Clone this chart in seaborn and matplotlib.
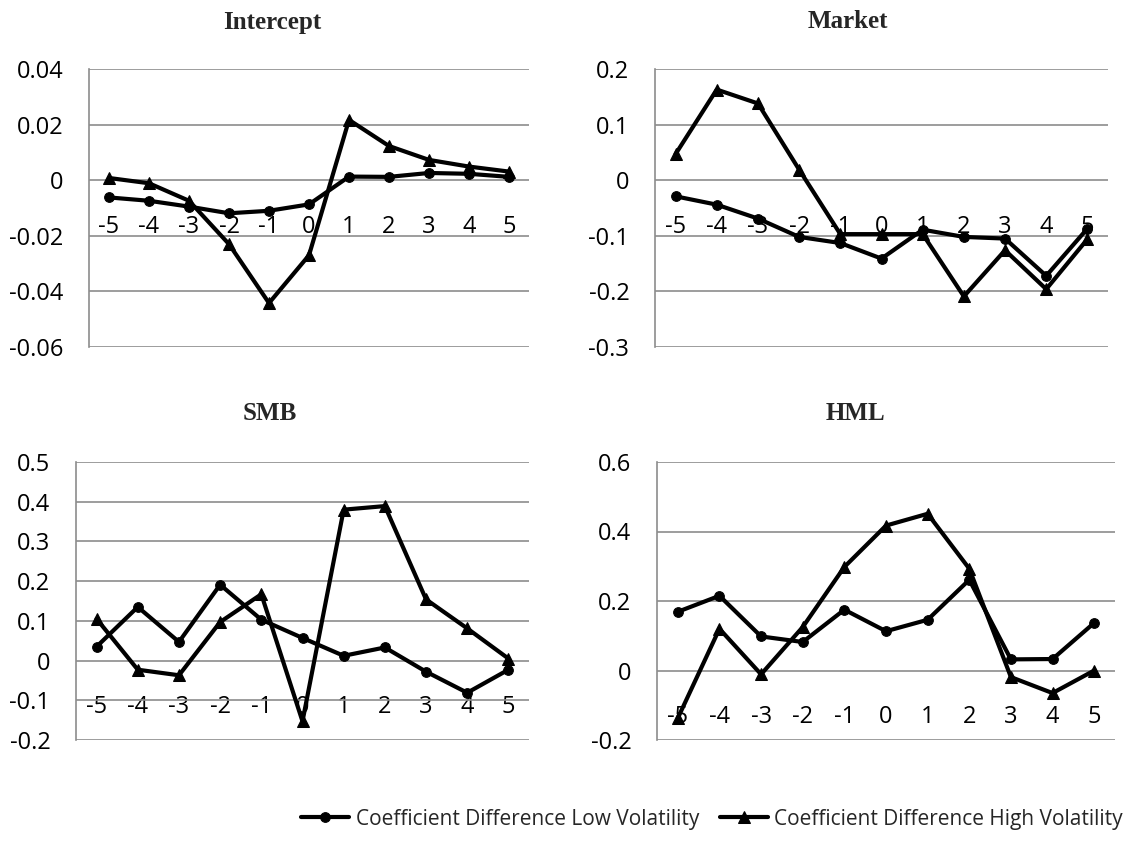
import pandas as pd
import seaborn as sns
import matplotlib.pyplot as plt
from matplotlib.ticker import FuncFormatter, MultipleLocator

# event window (days around the event)
lags = [-5, -4, -3, -2, -1, 0, 1, 2, 3, 4, 5]

intercept_low = [-0.0062, -0.0074, -0.0095, -0.0119, -0.0110, -0.0087, 0.0013, 0.0012, 0.0026, 0.0023, 0.0012]
intercept_high = [0.0008, -0.0011, -0.0074, -0.0230, -0.0442, -0.0270, 0.0217, 0.0123, 0.0073, 0.0049, 0.0031]

market_low = [-0.029, -0.044, -0.069, -0.102, -0.113, -0.141, -0.089, -0.102, -0.105, -0.172, -0.087]
market_high = [0.047, 0.163, 0.138, 0.019, -0.097, -0.097, -0.097, -0.209, -0.126, -0.196, -0.106]

smb_low = [0.035, 0.135, 0.047, 0.191, 0.103, 0.057, 0.012, 0.033, -0.028, -0.081, -0.023]
smb_high = [0.105, -0.023, -0.037, 0.097, 0.167, -0.153, 0.380, 0.389, 0.154, 0.081, 0.005]

hml_low = [0.169, 0.215, 0.098, 0.082, 0.175, 0.113, 0.146, 0.261, 0.032, 0.033, 0.137]
hml_high = [-0.137, 0.120, -0.011, 0.125, 0.298, 0.417, 0.451, 0.293, -0.019, -0.065, 0.000]

LOW = "Coefficient Difference Low Volatility"
HIGH = "Coefficient Difference High Volatility"

sns.set_style("white")
plt.rcParams['font.family'] = ['Open Sans', 'DejaVu Sans']

W, H = 1123, 857
fig = plt.figure(figsize=(W / 100, H / 100), dpi=100)

# name, low, high, (ymin, ymax, step), axes box in pixels (left, top, right, bottom), title centre
panels = [
    ("Intercept", intercept_low, intercept_high, (-0.06, 0.04, 0.02), (89, 69, 529, 347), (272, 22)),
    ("Market", market_low, market_high, (-0.3, 0.2, 0.1), (655, 69, 1108, 347), (848, 22)),
    ("SMB", smb_low, smb_high, (-0.2, 0.5, 0.1), (76, 462, 529, 740), (270, 413)),
    ("HML", hml_low, hml_high, (-0.2, 0.6, 0.2), (657, 462, 1115, 740), (855, 413)),
]

fmt = FuncFormatter(lambda v, p: "0" if abs(v) < 1e-9 else f"{v:g}")
grey = "#8c8c8c"

for name, low, high, (ymin, ymax, step), (l, t, r, b), (tx, ty) in panels:
    ax = fig.add_axes([l / W, 1 - b / H, (r - l) / W, (b - t) / H])
    df = pd.DataFrame({"lag": lags, "low": low, "high": high})
    sns.lineplot(data=df, x="lag", y="low", ax=ax, color="black", linewidth=3,
                 marker="o", markersize=7, markeredgecolor="black", label=LOW, zorder=3)
    sns.lineplot(data=df, x="lag", y="high", ax=ax, color="black", linewidth=3,
                 marker="^", markersize=9, markeredgecolor="black", label=HIGH, zorder=3)
    ax.set_xlim(-5.5, 5.5)
    ax.set_ylim(ymin, ymax)
    ax.yaxis.set_major_locator(MultipleLocator(step))
    ax.yaxis.set_major_formatter(fmt)
    ax.set_xticks(lags)
    ax.set_xticklabels([str(v) for v in lags])
    ax.grid(axis="y", color=grey, linewidth=1.2)
    ax.set_axisbelow(True)
    for s in ["top", "right"]:
        ax.spines[s].set_visible(False)
    ax.spines["left"].set_color(grey)
    ax.spines["left"].set_linewidth(1.2)
    # category labels hang under the zero line, like the Excel original
    ax.spines["bottom"].set_position(("data", 0))
    ax.spines["bottom"].set_visible(False)
    ax.tick_params(axis="x", length=0, pad=25, labelsize=17, colors="black")
    ax.tick_params(axis="y", length=0, pad=18.5, labelsize=17, colors="black")
    ax.set_xlabel("")
    ax.set_ylabel("")
    ax.get_legend().remove()
    fig.text(tx / W, 1 - ty / H, name, ha="center", va="center", fontsize=18,
             fontweight="bold", family="Liberation Serif")

handles, labels = ax.get_legend_handles_labels()
fig.legend(handles, labels, loc="center", bbox_to_anchor=(712 / W, 1 - 819 / H), ncol=2,
           frameon=False, fontsize=15, handlelength=2.3, handletextpad=0.3, columnspacing=1.0)

fig.savefig("out.png", dpi=100)
